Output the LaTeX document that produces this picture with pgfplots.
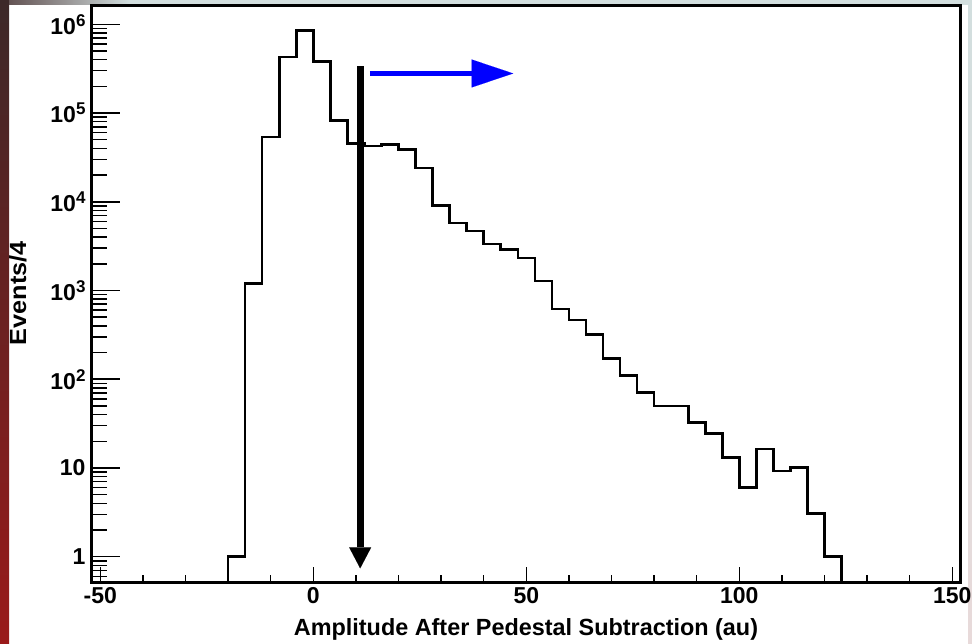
\documentclass[border=0pt]{standalone}
\usepackage{fontspec}
\setmainfont{Liberation Sans}
\usepackage{pgfplots}
\pgfplotsset{compat=1.18}
\usetikzlibrary{arrows.meta}
\definecolor{stripL1}{HTML}{3C2828}
\definecolor{stripL2}{HTML}{9A1A1A}
\definecolor{stripT}{HTML}{D2DEDE}
\definecolor{stripR2}{HTML}{E8DADA}
\newcommand{\ylab}[1]{10\raisebox{8pt}{\fontsize{17}{17}\selectfont #1}}
\begin{document}
\begin{tikzpicture}
\path[use as bounding box] (0pt,0pt) rectangle (972pt,644pt);
\fill[white] (0pt,0pt) rectangle (972pt,644pt);
\shade[top color=stripL1, bottom color=stripL2] (0pt,0pt) rectangle (9pt,644pt);
\shade[left color=stripL1!80!white, right color=stripT] (9pt,639pt) rectangle (130pt,644pt);
\fill[stripT] (130pt,639pt) rectangle (972pt,644pt);
\shade[top color=stripT, bottom color=stripR2] (968pt,0pt) rectangle (972pt,639pt);
\begin{axis}[
  at={(92pt,61.5pt)}, anchor=south west,
  scale only axis, width=868pt, height=576.5pt,
  xmin=-51.95, xmax=151.8,
  ymode=log, ymin=0.5124, ymax=1.607e6,
  axis line style={line width=3pt},
  tick align=inside,
  xtick pos=bottom, ytick pos=left,
  xtick={-50,0,50,100,150},
  xticklabels={-50,0,50,100,150},
  minor x tick num=4,
  ytick={0.1,1,10,100,1000,10000,100000,1000000},
  yticklabel={\pgfmathtruncatemacro\ee{round(\tick/2.302585093)}\ifnum\ee=0 1\else\ifnum\ee=1 10\else\ylab{\ee}\fi\fi},
  xtick style={line width=1.5pt, black, /pgfplots/major tick length=16pt, /pgfplots/minor tick length=8pt},
  ytick style={line width=1.5pt, black, /pgfplots/major tick length=28pt, /pgfplots/minor tick length=15pt},
  tick label style={font=\fontsize{23}{23}\selectfont\bfseries},
  xticklabel style={yshift=-1.5pt},
  yticklabel style={xshift=-3pt},
  xlabel={Amplitude After Pedestal Subtraction (au)},
  xlabel style={font=\fontsize{23.4}{23.4}\selectfont\bfseries, at={(axis description cs:0.5,-0.0911)}, anchor=base},
  ylabel={\scalebox{1.08}[1]{Events/4}},
  ylabel style={font=\fontsize{23.4}{23.4}\selectfont\bfseries, at={(axis description cs:-0.0853,0.502)}, anchor=center},
]
\addplot[const plot mark left, line width=2.6pt, black, mark=none] coordinates {
(-51.95,0.5124) (-20,1.0) (-16,1190) (-12,53800) (-8,428000) (-4,857000)
(0,378000) (4,82000) (8,45300) (12,42500) (16,44300) (20,39100) (24,24100)
(28,9080) (32,5780) (36,4660) (40,3330) (44,2900) (48,2330) (52,1280)
(56,617) (60,463) (64,320) (68,172) (72,111) (76,71) (80,49.8) (84,49.8)
(88,32.7) (92,24.5) (96,13.2) (100,6.05) (104,16.3) (108,9.2) (112,10.2)
(116,3.08) (120,1.0) (124,0.5124) (151.8,0.5124)
};
\draw[black, line width=7pt, -{Triangle[width=22pt,length=21pt,line width=0.01pt]}] (axis cs:11,3.37e5) -- (axis cs:11,0.74);
\draw[blue, line width=5pt, -{Triangle[width=28pt,length=41.6pt,line width=0.01pt]}] (axis cs:13.3,2.79e5) -- (axis cs:46.9,2.79e5);
\end{axis}
\end{tikzpicture}
\end{document}
